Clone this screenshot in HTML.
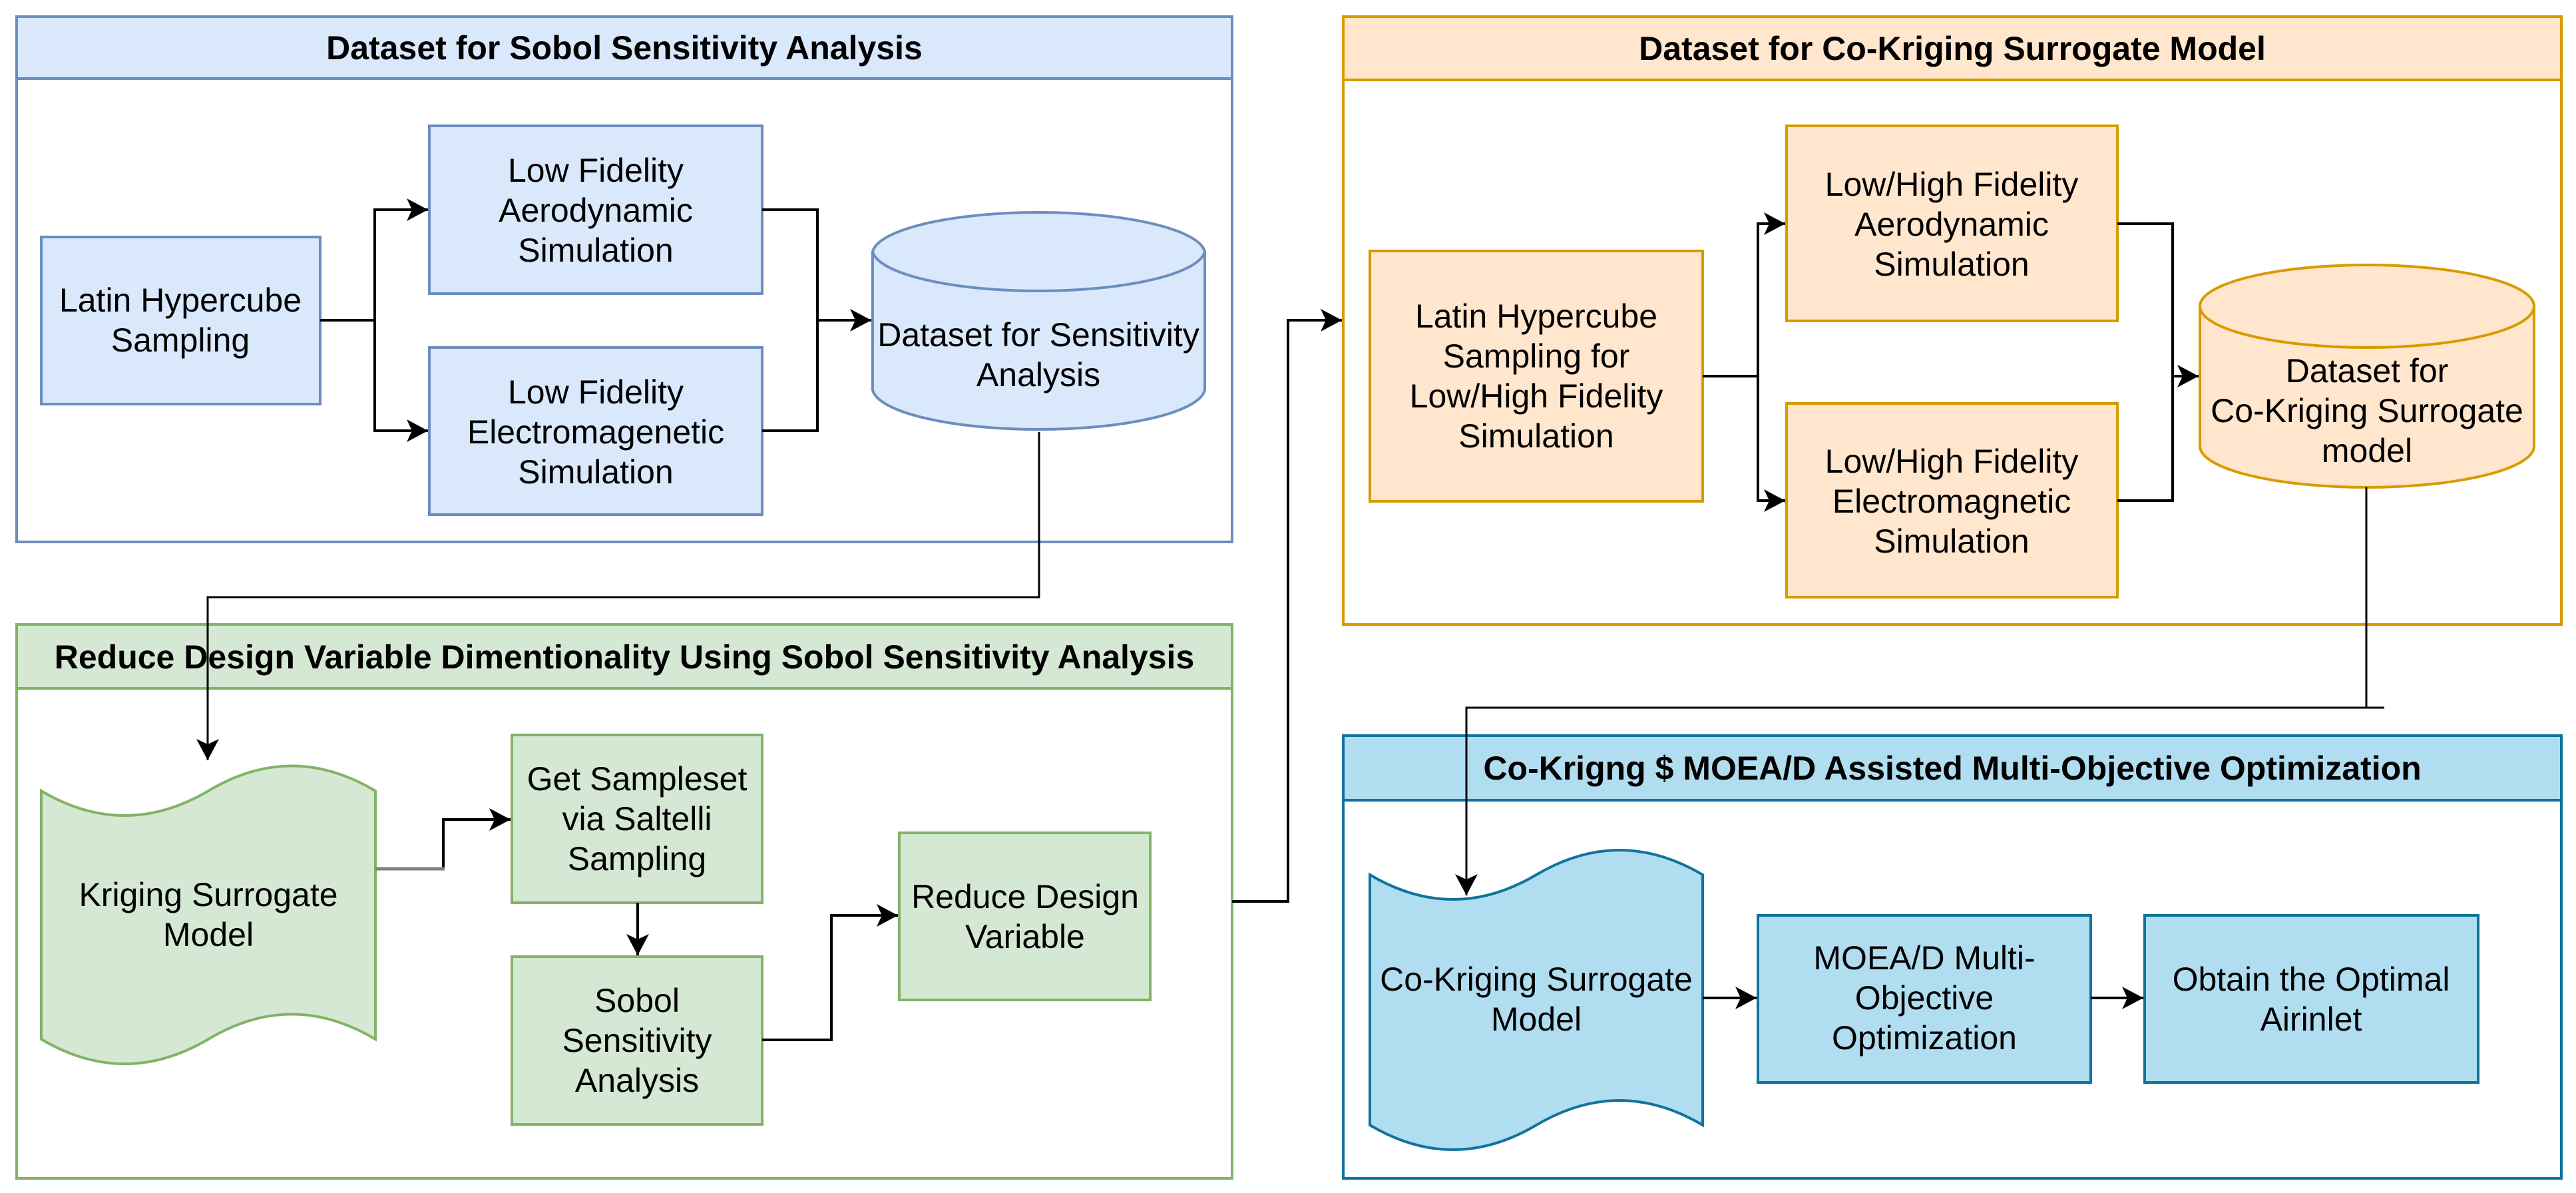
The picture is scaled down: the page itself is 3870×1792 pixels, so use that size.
<!DOCTYPE html>
<html><head><meta charset="utf-8"><style>html,body{margin:0;padding:0;background:#fff}svg{display:block}svg text{font-family:"Liberation Sans",Arial,sans-serif;font-size:50px}</style></head><body>
<svg width="3870" height="1792" viewBox="0 0 3870 1792" xmlns="http://www.w3.org/2000/svg">
<defs>
<marker id="a" markerUnits="userSpaceOnUse" markerWidth="34" markerHeight="38" refX="32" refY="19" orient="auto">
<path d="M0,2 L32,19 L0,36 L8,19 Z" fill="#000"/>
</marker>
</defs>
<rect width="3870" height="1792" fill="#fff"/>

<rect x="25" y="25" width="1826" height="789" fill="#fff" stroke="#6c8ebf" stroke-width="4"/>
<rect x="25" y="25" width="1826" height="93" fill="#dae8fc" stroke="#6c8ebf" stroke-width="4"/>
<text x="938" y="89" text-anchor="middle" font-weight="bold">Dataset for Sobol Sensitivity Analysis</text>

<rect x="2018" y="25" width="1830" height="913" fill="#fff" stroke="#d79b00" stroke-width="4"/>
<rect x="2018" y="25" width="1830" height="95" fill="#ffe6cc" stroke="#d79b00" stroke-width="4"/>
<text x="2933" y="90" text-anchor="middle" font-weight="bold">Dataset for Co-Kriging Surrogate Model</text>

<rect x="25" y="938" width="1826" height="832" fill="#fff" stroke="#82b366" stroke-width="4"/>
<rect x="25" y="938" width="1826" height="96" fill="#d5e8d4" stroke="#82b366" stroke-width="4"/>
<text x="938" y="1004" text-anchor="middle" font-weight="bold">Reduce Design Variable Dimentionality Using Sobol  Sensitivity Analysis</text>

<rect x="2018" y="1105" width="1830" height="665" fill="#fff" stroke="#10739e" stroke-width="4"/>
<rect x="2018" y="1105" width="1830" height="97" fill="#b1ddf0" stroke="#10739e" stroke-width="4"/>
<text x="2933" y="1171" text-anchor="middle" font-weight="bold">Co-Krigng $ MOEA/D Assisted Multi-Objective Optimization</text>

<g fill="#dae8fc" stroke="#6c8ebf" stroke-width="4">
<rect x="62" y="356" width="419" height="251"/>
<rect x="645" y="189" width="500" height="252"/>
<rect x="645" y="522" width="500" height="251"/>
<path d="M1311,378 A250,63 0 0 1 1810,378 L1810,586 A250,63 0 0 1 1311,586 Z"/>
<path d="M1311,378 A250,63 0 0 0 1810,378" fill="none"/>
</g>
<g text-anchor="middle">
<text x="271" y="468">Latin Hypercube</text><text x="271" y="528">Sampling</text>
<text x="895" y="273">Low Fidelity</text><text x="895" y="333">Aerodynamic</text><text x="895" y="393">Simulation</text>
<text x="895" y="606">Low Fidelity</text><text x="895" y="666">Electromagenetic</text><text x="895" y="726">Simulation</text>
<text x="1560" y="520">Dataset for Sensitivity</text><text x="1560" y="580">Analysis</text>
</g>

<g fill="#ffe6cc" stroke="#d79b00" stroke-width="4">
<rect x="2058" y="377" width="500" height="376"/>
<rect x="2684" y="189" width="497" height="293"/>
<rect x="2684" y="606" width="497" height="291"/>
<path d="M3305,460 A251,62 0 0 1 3807,460 L3807,670 A251,62 0 0 1 3305,670 Z"/>
<path d="M3305,460 A251,62 0 0 0 3807,460" fill="none"/>
</g>
<g text-anchor="middle">
<text x="2308" y="492">Latin Hypercube</text><text x="2308" y="552">Sampling for</text><text x="2308" y="612">Low/High Fidelity</text><text x="2308" y="672">Simulation</text>
<text x="2932" y="294">Low/High Fidelity</text><text x="2932" y="354">Aerodynamic</text><text x="2932" y="414">Simulation</text>
<text x="2932" y="710">Low/High Fidelity</text><text x="2932" y="770">Electromagnetic</text><text x="2932" y="830">Simulation</text>
<text x="3556" y="574">Dataset for</text><text x="3556" y="634">Co-Kriging Surrogate</text><text x="3556" y="694">model</text>
</g>

<g fill="#d5e8d4" stroke="#82b366" stroke-width="4">
<path d="M62,1188 Q187,1262 313,1188 Q438,1113 564,1188 L564,1561 Q438,1486 313,1561 Q187,1635 62,1561 Z"/>
<rect x="769" y="1104" width="376" height="252"/>
<rect x="769" y="1437" width="376" height="252"/>
<rect x="1351" y="1251" width="377" height="251"/>
</g>
<g text-anchor="middle">
<text x="313" y="1361">Kriging Surrogate</text><text x="313" y="1421">Model</text>
<text x="957" y="1187">Get Sampleset</text><text x="957" y="1247">via Saltelli</text><text x="957" y="1307">Sampling</text>
<text x="957" y="1520">Sobol</text><text x="957" y="1580">Sensitivity</text><text x="957" y="1640">Analysis</text>
<text x="1540" y="1364">Reduce Design</text><text x="1540" y="1424">Variable</text>
</g>

<g fill="#b1ddf0" stroke="#10739e" stroke-width="4">
<path d="M2058,1314 Q2183,1388 2308,1314 Q2433,1240 2558,1314 L2558,1690 Q2433,1616 2308,1690 Q2183,1764 2058,1690 Z"/>
<rect x="2641" y="1375" width="500" height="251"/>
<rect x="3222" y="1375" width="501" height="251"/>
</g>
<g text-anchor="middle">
<text x="2308" y="1488">Co-Kriging Surrogate</text><text x="2308" y="1548">Model</text>
<text x="2891" y="1456">MOEA/D Multi-</text><text x="2891" y="1516">Objective</text><text x="2891" y="1576">Optimization</text>
<text x="3472" y="1488">Obtain the Optimal</text><text x="3472" y="1548">Airinlet</text>
</g>

<g fill="none" stroke="#000" stroke-width="4">
<path d="M481,481 H563 V315 H643" marker-end="url(#a)"/>
<path d="M563,481 V647 H643" marker-end="url(#a)"/>
<path d="M1145,315 H1228 V481 H1309" marker-end="url(#a)"/>
<path d="M1145,647 H1228 V481"/>
<path d="M1561,649 V897 H312 V1142" stroke-width="3" marker-end="url(#a)"/>
<path d="M666,1305 V1231 H767" marker-end="url(#a)"/>
<path d="M958,1356 V1435" marker-end="url(#a)"/>
<path d="M1145,1562 H1249 V1375 H1349" marker-end="url(#a)"/>
<path d="M1851,1354 H1935 V481 H2016" marker-end="url(#a)"/>
<path d="M2558,565 H2641 V336 H2682" marker-end="url(#a)"/>
<path d="M2641,565 V752 H2682" marker-end="url(#a)"/>
<path d="M3181,336 H3264 V565 H3303" marker-end="url(#a)"/>
<path d="M3181,752 H3264 V565"/>
<path d="M3555,732 V1063 M3582,1063 H2203 V1345" stroke-width="3" marker-end="url(#a)"/>
<path d="M2558,1499 H2639" marker-end="url(#a)"/>
<path d="M3141,1499 H3220" marker-end="url(#a)"/>
</g>
<path d="M564,1305 H668" stroke="#808080" stroke-width="5"/>
</svg>
</body></html>
